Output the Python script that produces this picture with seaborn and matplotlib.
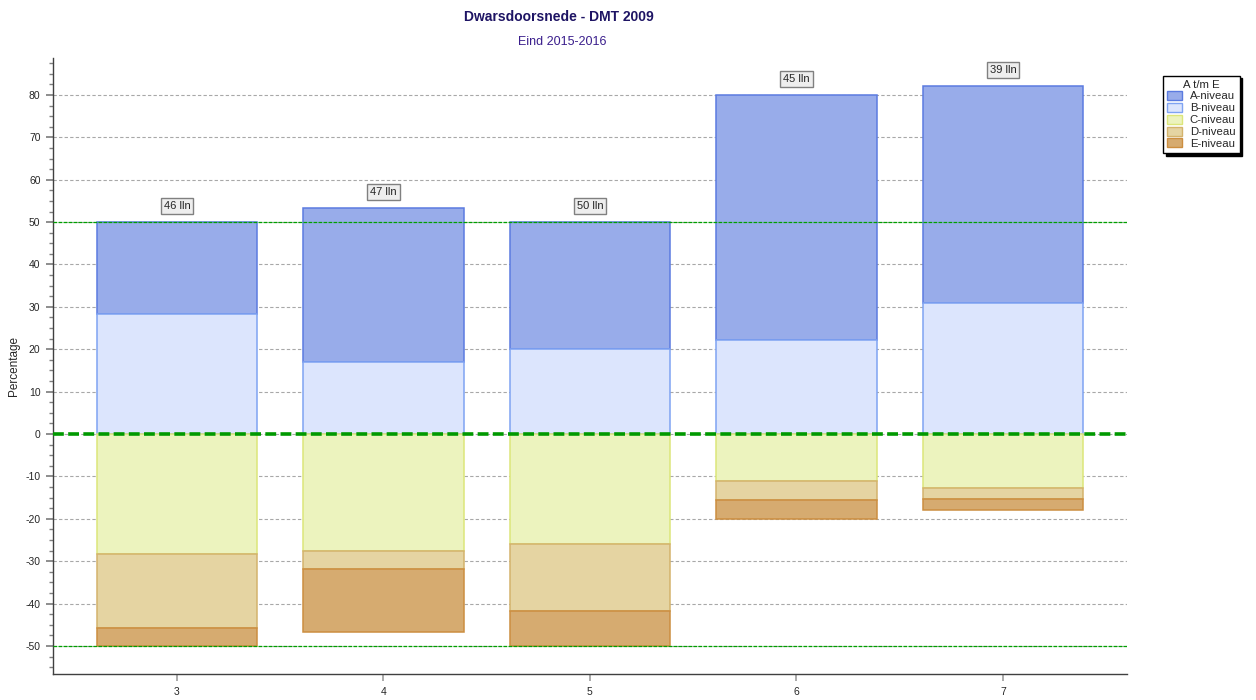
import matplotlib
matplotlib.use("Agg")
import matplotlib.pyplot as plt
import matplotlib.patches as mpatches
import seaborn as sns
import numpy as np

# data (percent per level)
categories = ["3", "4", "5", "6", "7"]
a_niveau = [21.7, 36.3, 30.0, 57.8, 51.2]
b_niveau = [28.3, 17.0, 20.0, 22.2, 30.9]
c_niveau = [28.3, 27.6, 25.9, 11.1, 12.7]
d_niveau = [17.4, 4.2, 15.8, 4.5, 2.6]
e_niveau = [4.3, 14.9, 8.3, 4.4, 2.6]
n_leerlingen = ["46 lln", "47 lln", "50 lln", "45 lln", "39 lln"]

sns.set_theme(style="white")
plt.rcParams["font.family"] = ["Liberation Sans", "DejaVu Sans"]
plt.rcParams["axes.unicode_minus"] = False

fig = plt.figure(figsize=(12.56, 7), dpi=100)
ax = fig.add_axes([0.0422, 0.0371, 0.855, 0.880])

a = np.array(a_niveau)
b = np.array(b_niveau)
c = np.array(c_niveau)
d = np.array(d_niveau)
e = np.array(e_niveau)

levels = [
    ("A-niveau", a, b, "#98ACEA", "#5B7BE0"),
    ("B-niveau", b, np.zeros(5), "#DCE5FD", "#7FA3F2"),
    ("C-niveau", c, -c, "#ECF3BE", "#DCE67A"),
    ("D-niveau", d, -(c + d), "#E5D4A2", "#D4B36C"),
    ("E-niveau", e, -(c + d + e), "#D6AB70", "#CC8E40"),
]

handles = []
for name, h, bot, fc, ec in levels:
    sns.barplot(x=categories, y=h, bottom=bot, color=fc, edgecolor=ec,
                linewidth=1.1, width=0.777, saturation=1, ax=ax, zorder=2)
    handles.append(mpatches.Patch(facecolor=fc, edgecolor=ec, label=name))

tops = a + b
for i, lab in enumerate(n_leerlingen):
    ax.text(i, tops[i] + 3.8, lab, ha="center", va="center", fontsize=8,
            bbox=dict(boxstyle="square,pad=0.25", fc="#EEEEEE", ec="#808080", lw=1),
            zorder=5)

ax.set_xlim(-0.6, 4.6)
ax.set_ylim(-56.6, 88.7)
ax.set_yticks(np.arange(-50, 81, 10))
ax.set_yticks(np.arange(-55, 88, 2.5), minor=True)
ax.yaxis.grid(True, which="major", color="#A8A8A8", linestyle=(0, (3, 2)), lw=0.8, zorder=0)
ax.set_axisbelow(True)

ax.axhline(50, color="#00A000", lw=0.9, ls=(0, (3, 1)), zorder=4)
ax.axhline(-50, color="#00A000", lw=0.9, ls=(0, (3, 1)), zorder=4)
ax.axhline(0, color="#009900", lw=2.6, ls=(0, (3, 1.2)), zorder=4)

for s in ["top", "right"]:
    ax.spines[s].set_visible(False)
for s in ["left", "bottom"]:
    ax.spines[s].set_color("#404040")
    ax.spines[s].set_linewidth(1.0)

ax.tick_params(axis="y", which="major", left=True, length=5, color="#808080",
               labelsize=7.5, pad=4)
ax.tick_params(axis="y", which="minor", left=True, length=3, color="#808080")
ax.tick_params(axis="x", bottom=True, length=5, color="#A0A0A0", labelsize=7.5, pad=4)
ax.set_xlabel("")
ax.set_ylabel("Percentage", fontsize=8.5)
ax.yaxis.set_label_coords(-0.031, 0.5)

fig.text(0.445, 1 - 17 / 700, "Dwarsdoorsnede - DMT 2009", ha="center", va="center",
         fontsize=10, fontweight="bold", color="#1E1464")
fig.text(0.448, 1 - 42 / 700, "Eind 2015-2016", ha="center", va="center",
         fontsize=9, color="#3A1E8C")

leg = fig.legend(handles=handles, title="A t/m E", loc="upper left",
                 bbox_to_anchor=(0.926, 0.892), fontsize=8.2, title_fontsize=8.2,
                 frameon=True, fancybox=False, shadow={"color": "black", "alpha": 1},
                 handlelength=1.3, handleheight=0.85, handletextpad=0.7,
                 labelspacing=0.12, borderpad=0.35, borderaxespad=0)
leg.get_frame().set_edgecolor("black")
leg.get_frame().set_linewidth(1)

fig.savefig("out.png", dpi=100)
